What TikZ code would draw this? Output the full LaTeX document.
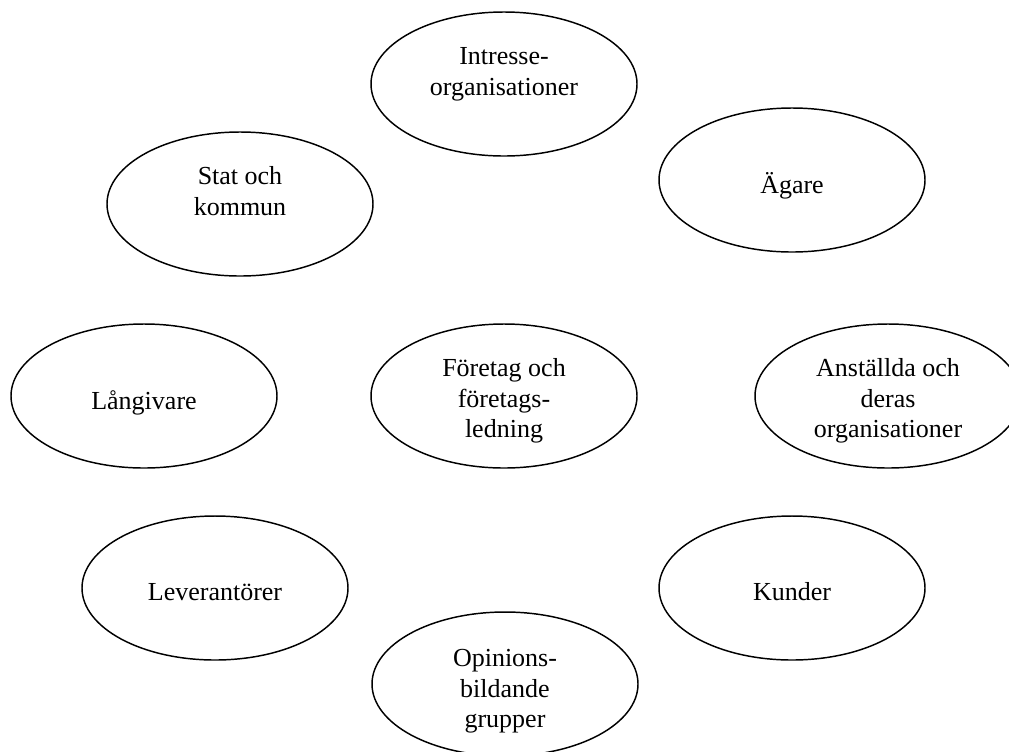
\documentclass[tikz,border=0pt]{standalone}
\usepackage{fontspec}
\setmainfont{Liberation Serif}
\usetikzlibrary{shapes.geometric}
\begin{document}
\begin{tikzpicture}[x=0.75pt,y=-0.75pt,
  oval/.style={ellipse,draw,line width=1.1pt,minimum width=199.5pt,minimum height=108pt,inner sep=0pt,outer sep=0pt},
  lbl/.style={align=center,inner sep=0pt,font=\fontsize{19.5pt}{22.875pt}\selectfont}]
\useasboundingbox (0,0) rectangle (1009,751);
\clip (0,0) rectangle (1009,751);
% ellipses
\node[oval] (intresse) at (504,84) {};
\node[oval] (stat) at (240,204) {};
\node[oval] (agare) at (792,180) {};
\node[oval] (langivare) at (144,396) {};
\node[oval] (foretag) at (504,396) {};
\node[oval] (anstallda) at (888,396) {};
\node[oval] (leverantorer) at (215,588) {};
\node[oval] (kunder) at (792,588) {};
\node[oval] (opinions) at (505,684) {};
% labels
\node[lbl] (tintresse) at (504,74) {\strut Intresse-\\\strut organisationer};
\node[lbl] (tstat) at (240,194) {\strut Stat och\\\strut kommun};
\node[lbl] (tagare) at (792,187) {\strut Ägare};
\node[lbl] (tlangivare) at (144,403) {\strut Långivare};
\node[lbl] (tforetag) at (504,401) {\strut Företag och\\\strut företags-\\\strut ledning};
\node[lbl] (tanstallda) at (888,401) {\strut Anställda och\\\strut deras\\\strut organisationer};
\node[lbl] (tleverantorer) at (215,594) {\strut Leverantörer};
\node[lbl] (tkunder) at (792,594) {\strut Kunder};
\node[lbl] (topinions) at (505,691) {\strut Opinions-\\\strut bildande\\\strut grupper};
\end{tikzpicture}
\end{document}
